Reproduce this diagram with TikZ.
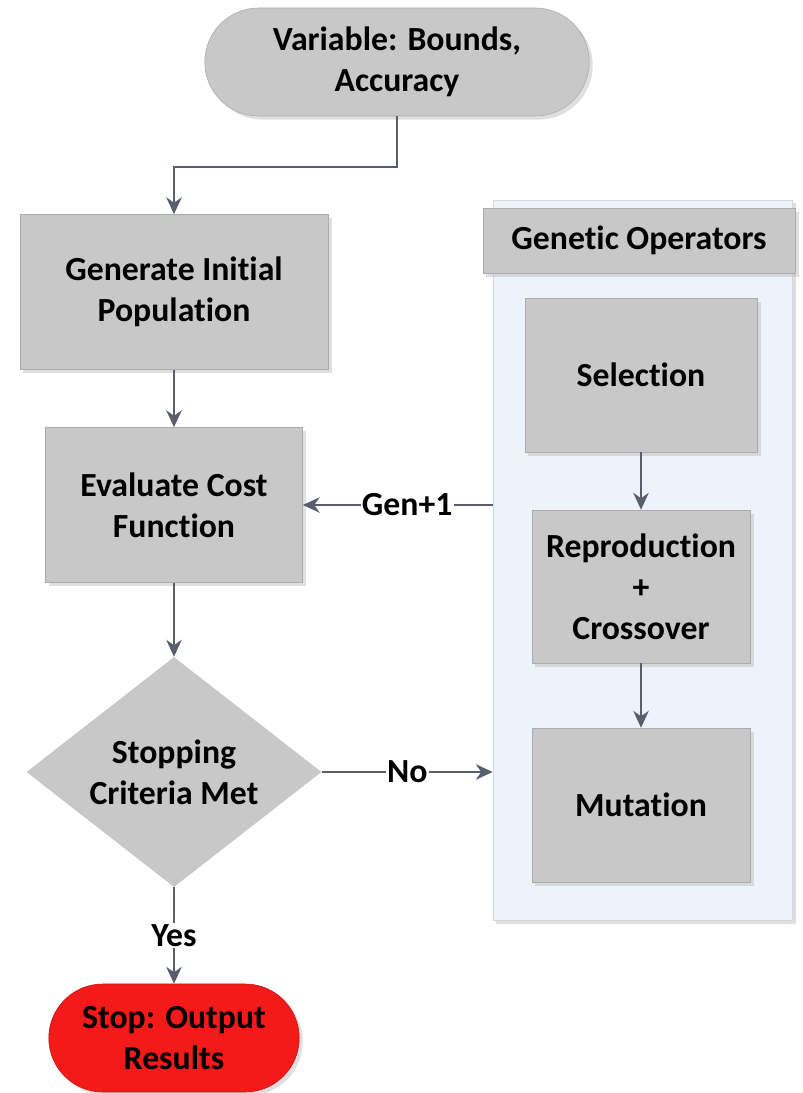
\documentclass[tikz,border=0pt]{standalone}
\usepackage{fontspec}
\setmainfont{Carlito}[Ligatures=NoCommon]
\usetikzlibrary{positioning,shapes.geometric,shapes.misc,shadows,arrows.meta}
\definecolor{boxgray}{HTML}{C8C8C8}
\definecolor{edgegray}{HTML}{ABABAB}
\definecolor{linegray}{HTML}{5A5E6C}
\definecolor{panelblue}{HTML}{EEF2FA}
\definecolor{paneledge}{HTML}{D4D8E0}
\definecolor{stopred}{HTML}{F51A1A}

\begin{document}
\begin{tikzpicture}[x=0.025cm, y=-0.025cm, font=\fontsize{24}{29}\selectfont\bfseries]
        \tikzstyle{every node}=[align=center, inner sep=2pt]
        \tikzstyle{shade}=[drop shadow={shadow xshift=2.5pt, shadow yshift=-2.5pt, fill=gray!50}]
        \tikzstyle{box}=[rectangle, fill=boxgray, draw=edgegray, shade]
        \tikzstyle{term}=[rounded rectangle, fill=boxgray, draw=edgegray, shade, minimum height=2.7cm]
        \tikzstyle{arr}=[draw=linegray, line width=1.7pt, -{Stealth[length=12pt, width=11pt]}]
        \tikzstyle{lbl}=[fill=white, inner sep=1pt]
        \useasboundingbox (0,0) rectangle (803,1093);
        % genetic operators panel
        \node [rectangle, fill=panelblue, draw=paneledge, shade, minimum width=7.475cm, minimum height=18cm] (ops) at (642.5,560) {};
        \node [box, minimum width=7.8cm, minimum height=1.625cm] (head) at (639,240.5) {Genetic Operators};
        \node [box, minimum width=5.8cm, minimum height=3.85cm] (sel) at (641,375) {Selection};
        \node [box, minimum width=5.45cm, minimum height=3.825cm] (rep) at (641,586.5) {Reproduction\\+\\Crossover};
        \node [box, minimum width=5.45cm, minimum height=3.85cm] (mut) at (641,805) {Mutation};
        % main flow
        \node [term, minimum width=9.75cm] (start) at (397,62) {Variable: Bounds,\\Accuracy};
        \node [box, minimum width=7.7cm, minimum height=3.875cm] (gen) at (174,292) {Generate Initial\\Population};
        \node [box, minimum width=6.425cm, minimum height=3.875cm] (eval) at (174,505) {Evaluate Cost\\Function};
        \node [diamond, fill=boxgray, inner sep=0pt, aspect=1.28, minimum width=7.375cm, minimum height=5.75cm] (dec) at (174,772) {Stopping\\Criteria Met};
        \node [term, fill=stopred, draw=stopred!80!black, minimum width=6.4cm] (stop) at (174,1038) {Stop: Output\\Results};
        \coordinate (split) at (174,167);
        \draw [arr] (start.south) |- (split) -- (gen.north);
        \draw [arr] (gen) -- (eval);
        \draw [arr] (eval) -- (dec);
        \draw [arr] (dec.south) -- node [lbl] {Yes} (stop.north);
        \draw [arr] (dec.east) -- node [lbl] {No} (dec.east -| ops.west);
        \draw [arr] (ops.west |- eval.east) -- node [lbl, pos=0.45] {Gen+1} (eval.east);
        \draw [arr] (sel) -- (rep);
        \draw [arr] (rep) -- (mut);
    \end{tikzpicture}
\end{document}
